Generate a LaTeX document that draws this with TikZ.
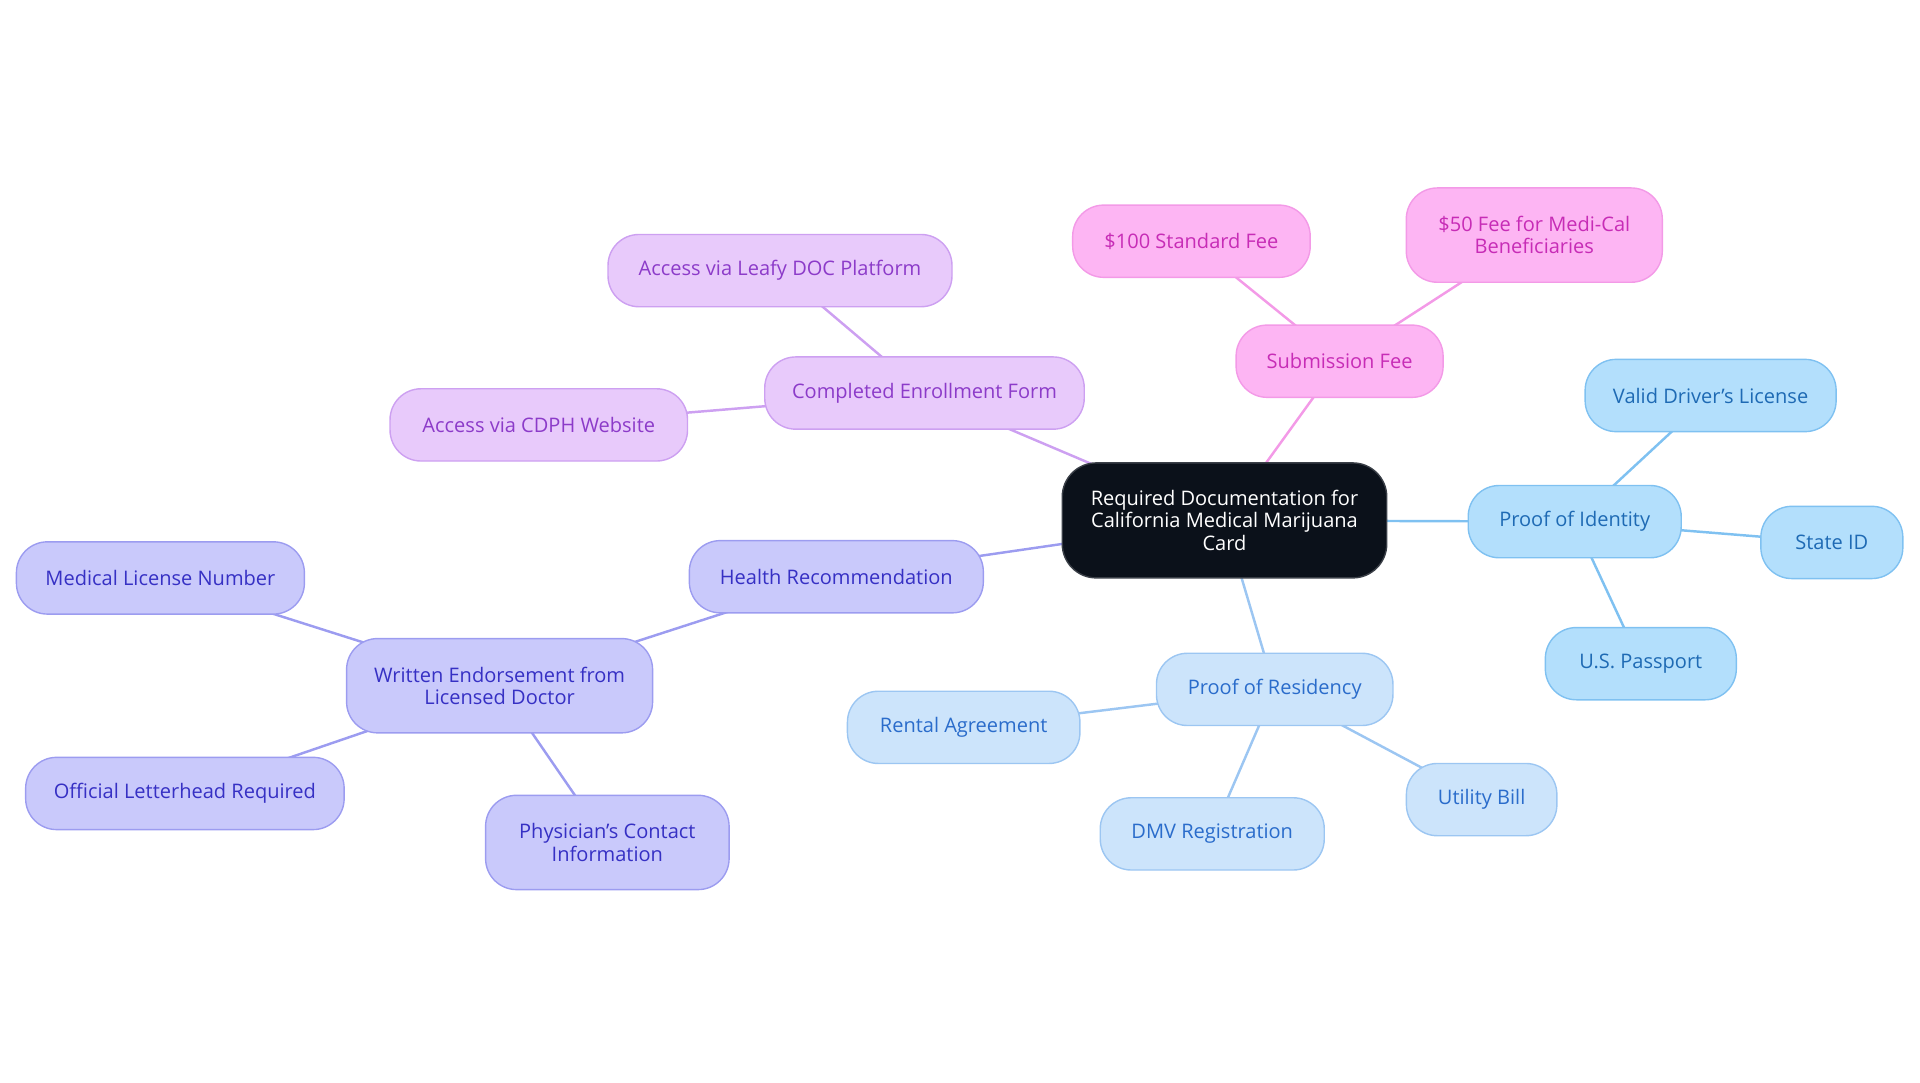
\documentclass[tikz,border=0pt]{standalone}
\usepackage{fontspec}
\setmainfont{Open Sans}
\usetikzlibrary{backgrounds}

\definecolor{rootfill}{HTML}{0B111A}
\definecolor{rootline}{HTML}{3A3F47}
\definecolor{pinkfill}{HTML}{FDB5F3}
\definecolor{pinkline}{HTML}{F39AE7}
\definecolor{pinktext}{HTML}{C72CB6}
\definecolor{lilacfill}{HTML}{E8CAFB}
\definecolor{lilacline}{HTML}{CDA0F1}
\definecolor{lilactext}{HTML}{8C3BC9}
\definecolor{indigofill}{HTML}{C9C9FB}
\definecolor{indigoline}{HTML}{9C9CF0}
\definecolor{indigotext}{HTML}{3630C4}
\definecolor{skyfill}{HTML}{B3DFFC}
\definecolor{skyline}{HTML}{7FC1F1}
\definecolor{skytext}{HTML}{1E6AB4}
\definecolor{palefill}{HTML}{CCE4FB}
\definecolor{paleline}{HTML}{9CC6F2}
\definecolor{paletext}{HTML}{2A6CCB}

\begin{document}
\begin{tikzpicture}[x=0.02449cm, y=-0.02449cm,
    box/.style={rounded corners=0.62cm, minimum height=1.445cm, inner xsep=2pt,
        align=center, line width=0.8pt, font=\fontsize{11.4}{12.6}\selectfont},
    tall/.style={minimum height=1.886cm},
    root/.style={box, rounded corners=0.68cm, fill=rootfill, draw=rootline,
        text=white, minimum width=6.49cm, minimum height=2.30cm},
    pinkbox/.style={box, fill=pinkfill, draw=pinkline, text=pinktext},
    lilacbox/.style={box, fill=lilacfill, draw=lilacline, text=lilactext},
    indigobox/.style={box, fill=indigofill, draw=indigoline, text=indigotext},
    skybox/.style={box, fill=skyfill, draw=skyline, text=skytext},
    palebox/.style={box, fill=palefill, draw=paleline, text=paletext},
    edge/.style={line width=1.4pt}]
    \useasboundingbox (0,0) rectangle (1568,884.4);

    % Root
    \node[root] (docs) at (1000,425) {Required Documentation for\\California Medical Marijuana\\Card};

    % Submission fee branch
    \node[pinkbox, minimum width=4.14cm] (fee) at (1094,295) {Submission Fee};
    \node[pinkbox, minimum width=4.75cm] (std) at (973,197) {\$100 Standard Fee};
    \node[pinkbox, tall, minimum width=5.12cm] (medical) at (1253,192) {\$50 Fee for Medi-Cal\\Beneficiaries};

    % Identity branch
    \node[skybox, minimum width=4.26cm] (identity) at (1286,426) {Proof of Identity};
    \node[skybox, minimum width=5.02cm] (license) at (1397,323) {Valid Driver's License};
    \node[skybox, minimum width=2.84cm] (stateid) at (1496,443) {State ID};
    \node[skybox, minimum width=3.82cm] (passport) at (1340,542) {U.S. Passport};

    % Residency branch
    \node[palebox, minimum width=4.73cm] (residency) at (1041,563) {Proof of Residency};
    \node[palebox, minimum width=4.65cm] (rental) at (787,594) {Rental Agreement};
    \node[palebox, minimum width=4.48cm] (dmv) at (990,681) {DMV Registration};
    \node[palebox, minimum width=3.01cm] (utility) at (1210,653) {Utility Bill};

    % Enrollment branch
    \node[lilacbox, minimum width=6.39cm] (form) at (755,321) {Completed Enrollment Form};
    \node[lilacbox, minimum width=6.88cm] (leafy) at (637,221) {Access via Leafy DOC Platform};
    \node[lilacbox, minimum width=5.95cm] (cdph) at (440,347) {Access via CDPH Website};

    % Recommendation branch
    \node[indigobox, minimum width=5.88cm] (health) at (683,471) {Health Recommendation};
    \node[indigobox, tall, minimum width=6.12cm] (endorse) at (408,560) {Written Endorsement from\\Licensed Doctor};
    \node[indigobox, minimum width=5.76cm] (number) at (131,472) {Medical License Number};
    \node[indigobox, minimum width=6.37cm] (letter) at (151,648) {Official Letterhead Required};
    \node[indigobox, tall, minimum width=4.87cm] (contact) at (496,688) {Physician's Contact\\Information};

    % Edges
    \begin{scope}[on background layer]
        \foreach \a/\b in {docs/fee, fee/std, fee/medical}
            \draw[edge, pinkline] (\a.center) -- (\b.center);
        \foreach \a/\b in {docs/identity, identity/license, identity/stateid, identity/passport}
            \draw[edge, skyline] (\a.center) -- (\b.center);
        \foreach \a/\b in {docs/residency, residency/rental, residency/dmv, residency/utility}
            \draw[edge, paleline] (\a.center) -- (\b.center);
        \foreach \a/\b in {docs/form, form/leafy, form/cdph}
            \draw[edge, lilacline] (\a.center) -- (\b.center);
        \foreach \a/\b in {docs/health, health/endorse, endorse/number, endorse/letter, endorse/contact}
            \draw[edge, indigoline] (\a.center) -- (\b.center);
    \end{scope}
\end{tikzpicture}
\end{document}
